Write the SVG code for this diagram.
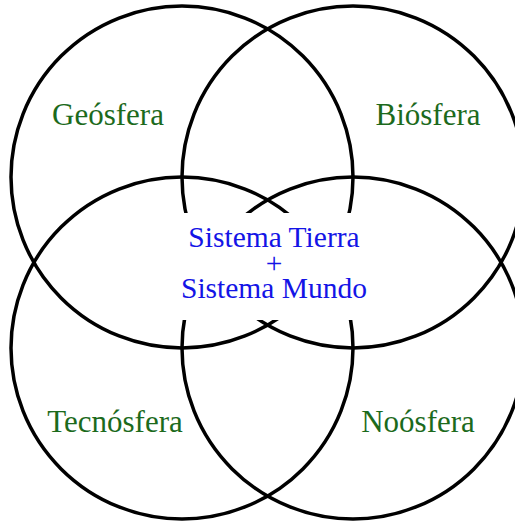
<svg xmlns="http://www.w3.org/2000/svg" width="515" height="522" viewBox="0 0 515 522">
  <style>
    .ring { fill: none; stroke: #000; stroke-width: 3.5; }
    .lbl { font-family: "Liberation Serif", "Times New Roman", serif; font-size: 31px; fill: #1c6a1c; text-anchor: middle; }
    .ctr { font-family: "Liberation Serif", "Times New Roman", serif; font-size: 29.5px; fill: #1414e6; text-anchor: middle; }
  </style>
  <rect x="0" y="0" width="515" height="522" fill="#fff"/>
  <g id="geosfera">
    <circle class="ring" cx="182" cy="177" r="171"/>
    <text class="lbl" x="108" y="125">Geósfera</text>
  </g>
  <g id="biosfera">
    <circle class="ring" cx="353" cy="177" r="171"/>
    <text class="lbl" x="428" y="125">Biósfera</text>
  </g>
  <g id="tecnosfera">
    <circle class="ring" cx="182" cy="348" r="171"/>
    <text class="lbl" x="115" y="432">Tecnósfera</text>
  </g>
  <g id="noosfera">
    <circle class="ring" cx="353" cy="348" r="171"/>
    <text class="lbl" x="418" y="432">Noósfera</text>
  </g>
  <g id="connectors"></g>
  <g id="sistema">
    <rect x="175" y="213" width="199" height="107" fill="#fff"/>
    <text class="ctr" x="274" y="247">Sistema Tierra<tspan x="274" y="273">+</tspan><tspan x="274" y="298">Sistema Mundo</tspan></text>
  </g>
</svg>
